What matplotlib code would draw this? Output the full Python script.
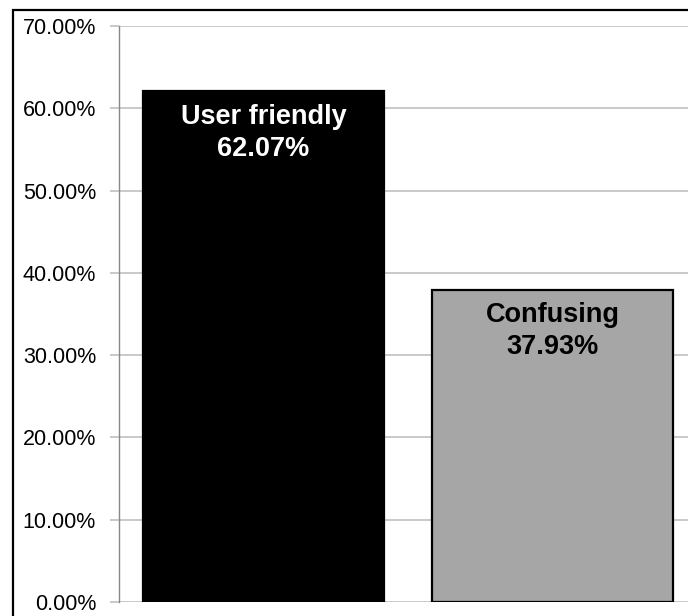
import matplotlib
matplotlib.use("Agg")
import matplotlib.pyplot as plt
from matplotlib.patches import Rectangle
from matplotlib.ticker import FuncFormatter, MultipleLocator


CATEGORIES = ["User friendly", "Confusing"]
VALUES = [62.07, 37.93]
BAR_COLORS = ["#000000", "#A6A6A6"]
TEXT_COLORS = ["#FFFFFF", "#000000"]

Y_MAX = 70
Y_STEP = 10

GRID_COLOR = "#C0C0C0"


def main():
    fig = plt.figure(figsize=(6.88, 6.16), dpi=100)

    # axes run a little past the right edge, like the cropped original
    ax = fig.add_axes([119 / 688, 14 / 616, 578.5 / 688, 576 / 616])

    x = list(range(len(CATEGORIES)))
    ax.bar(
        x, VALUES,
        width=0.834,
        color=BAR_COLORS,
        edgecolor="#000000",
        linewidth=1.6,
        zorder=3
    )

    for i, (name, val) in enumerate(zip(CATEGORIES, VALUES)):
        ax.annotate(
            f"{name}\n{val:.2f}%",
            xy=(i, val),
            xytext=(0, -9),
            textcoords="offset points",
            ha="center",
            va="top",
            color=TEXT_COLORS[i],
            fontsize=19.5,
            fontweight="bold",
            family=["Liberation Sans", "DejaVu Sans"],
            linespacing=1.3,
            zorder=4
        )

    ax.set_xlim(-0.5, len(CATEGORIES) - 0.5)
    ax.set_ylim(0, Y_MAX)
    ax.yaxis.set_major_locator(MultipleLocator(Y_STEP))
    ax.yaxis.set_major_formatter(FuncFormatter(lambda v, _: f"{v:.2f}%"))

    ax.grid(axis="y", color=GRID_COLOR, linewidth=1.2, zorder=0)
    ax.set_xticks([])

    for lab in ax.get_yticklabels():
        lab.set_family(["Liberation Sans", "DejaVu Sans"])
        lab.set_fontsize(15.5)

    ax.tick_params(axis="y", length=6.5, width=1.2, color=GRID_COLOR, pad=10)

    for side in ["top", "right", "bottom"]:
        ax.spines[side].set_visible(False)
    ax.spines["left"].set_color("#888888")
    ax.spines["left"].set_linewidth(1.0)

    # outer chart frame (right and bottom sides fall outside the image)
    frame = Rectangle(
        (13 / 688, -0.05), 1.1, 1 - 10 / 616 + 0.05,
        transform=fig.transFigure,
        fill=False,
        edgecolor="#000000",
        linewidth=1.6,
        clip_on=False
    )
    fig.patches.append(frame)

    fig.savefig("out.png", dpi=100)


if __name__ == "__main__":
    main()
